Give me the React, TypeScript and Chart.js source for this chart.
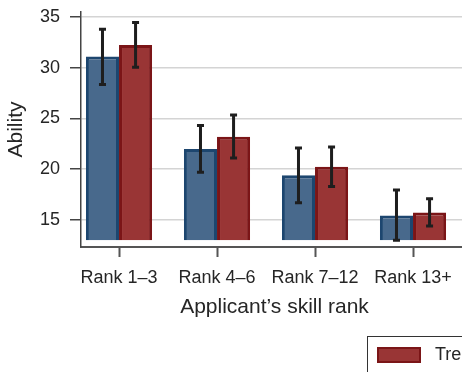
import React, { useEffect, useRef } from "react";
import { Chart, registerables } from "chart.js";

Chart.register(...registerables);

// Skill-rank groups and the y tick values
const categories = ["Rank 1\u20133", "Rank 4\u20136", "Rank 7\u201312", "Rank 13+"];
const yTicks = [15, 20, 25, 30, 35];

// Mean ability and 95% confidence bounds per group
const controlMeans = [31.1, 22.0, 19.4, 15.45];
const controlLow = [28.35, 19.7, 16.7, 13.0];
const controlHigh = [33.8, 24.3, 22.1, 17.95];

const treatMeans = [32.25, 23.2, 20.25, 15.75];
const treatLow = [30.05, 21.1, 18.3, 14.4];
const treatHigh = [34.45, 25.35, 22.2, 17.1];

const seriesNames = ["Control", "Treatment"];

const FONT = "'Liberation Sans', Arial, Helvetica, sans-serif";
const TEXT = "#262626";
const BLUE_FILL = "#48698c";
const BLUE_EDGE = "#1d466f";
const RED_FILL = "#993535";
const RED_EDGE = "#7b1517";

const W = 468;
const H = 420;

const errorBars = {
  id: "errorBars",
  afterDatasetsDraw(chart: any) {
    const ctx = chart.ctx;
    const y = chart.scales.y;
    const bounds = [
      [controlLow, controlHigh],
      [treatLow, treatHigh],
    ];
    ctx.save();
    ctx.strokeStyle = "#1e1e1e";
    ctx.lineWidth = 3;
    ctx.lineCap = "butt";
    chart.data.datasets.forEach((_: any, di: number) => {
      const meta = chart.getDatasetMeta(di);
      meta.data.forEach((bar: any, i: number) => {
        const x = bar.x;
        const yl = y.getPixelForValue(bounds[di][0][i]);
        const yh = y.getPixelForValue(bounds[di][1][i]);
        ctx.beginPath();
        ctx.moveTo(x, yl);
        ctx.lineTo(x, yh);
        ctx.moveTo(x - 3.5, yl);
        ctx.lineTo(x + 3.5, yl);
        ctx.moveTo(x - 3.5, yh);
        ctx.lineTo(x + 3.5, yh);
        ctx.stroke();
      });
    });
    ctx.restore();
  },
};

const boxedLegend = {
  id: "boxedLegend",
  afterDraw(chart: any) {
    const ctx = chart.ctx;
    const left = chart.chartArea.left + 286;
    const top = chart.chartArea.bottom + 89;
    ctx.save();
    ctx.strokeStyle = "#333";
    ctx.lineWidth = 1;
    ctx.strokeRect(left + 0.5, top + 0.5, 330, 60);
    const items = [
      { label: seriesNames[1], fill: RED_FILL, edge: RED_EDGE },
      { label: seriesNames[0], fill: BLUE_FILL, edge: BLUE_EDGE },
    ];
    let x = left + 10;
    ctx.font = `18px ${FONT}`;
    ctx.textBaseline = "middle";
    ctx.textAlign = "left";
    items.forEach((it) => {
      ctx.fillStyle = it.fill;
      ctx.fillRect(x, top + 11, 44, 16);
      ctx.strokeStyle = it.edge;
      ctx.lineWidth = 2;
      ctx.strokeRect(x + 1, top + 12, 42, 14);
      ctx.fillStyle = TEXT;
      ctx.fillText(it.label, x + 58, top + 19);
      x += 58 + ctx.measureText(it.label).width + 24;
    });
    ctx.restore();
  },
};

export default function App() {
  const ref = useRef<HTMLCanvasElement | null>(null);

  useEffect(() => {
    if (!ref.current) return;
    const chart = new Chart(ref.current, {
      type: "bar",
      data: {
        datasets: [
          {
            label: seriesNames[0],
            data: controlMeans.map((v, i) => ({ x: i + 1, y: v })),
            backgroundColor: BLUE_FILL,
            borderColor: BLUE_EDGE,
            borderWidth: 3,
            base: 13,
          },
          {
            label: seriesNames[1],
            data: treatMeans.map((v, i) => ({ x: i + 1, y: v })),
            backgroundColor: RED_FILL,
            borderColor: RED_EDGE,
            borderWidth: 3,
            base: 13,
          },
        ],
      },
      options: {
        responsive: false,
        animation: false,
        devicePixelRatio: 1,
        categoryPercentage: 0.675,
        barPercentage: 1,
        layout: { padding: { top: 12, right: 0, bottom: 100, left: 0 } },
        plugins: {
          legend: { display: false },
          tooltip: { enabled: false },
        },
        scales: {
          x: {
            type: "linear",
            min: 0.612,
            max: 4.561,
            offset: false,
            afterBuildTicks: (s: any) => {
              s.ticks = categories.map((_, i) => ({ value: i + 1 }));
            },
            afterFit: (s: any) => {
              s.height = 73;
              s.paddingLeft = 0;
              s.paddingRight = 0;
            },
            ticks: {
              callback: (v: any) => categories[Math.round(v) - 1],
              font: { family: FONT, size: 18 },
              color: TEXT,
              padding: 10,
              maxRotation: 0,
              autoSkip: false,
            },
            grid: {
              offset: false,
              drawOnChartArea: false,
              drawTicks: true,
              tickLength: 10,
              tickColor: "#555",
              tickWidth: 2,
            },
            border: { display: true, color: "#555", width: 2 },
            title: {
              display: true,
              text: "Applicant\u2019s skill rank",
              font: { family: FONT, size: 21 },
              color: TEXT,
              padding: 0,
            },
          },
          y: {
            min: 12.34,
            max: 35.49,
            afterBuildTicks: (s: any) => {
              s.ticks = yTicks.map((v) => ({ value: v }));
            },
            afterFit: (s: any) => {
              s.width = 81;
              s.paddingTop = 0;
              s.paddingBottom = 0;
            },
            ticks: {
              font: { family: FONT, size: 18 },
              color: TEXT,
              padding: 10,
            },
            grid: {
              color: "#d4d4d4",
              lineWidth: 1.5,
              drawTicks: true,
              tickLength: 11,
              tickColor: "#444",
              tickWidth: 1.5,
            },
            border: { display: true, color: "#444", width: 1.5 },
            title: {
              display: true,
              text: "Ability",
              font: { family: FONT, size: 21 },
              color: TEXT,
              padding: { top: 4, bottom: 0 },
            },
          },
        },
      },
      plugins: [errorBars, boxedLegend],
    });
    return () => chart.destroy();
  }, []);

  return (
    <div
      style={{
        position: "fixed",
        top: 0,
        left: 0,
        width: 462,
        height: 372,
        overflow: "hidden",
        background: "#fff",
      }}
    >
      <canvas ref={ref} width={W} height={H} style={{ width: W, height: H, display: "block" }} />
    </div>
  );
}
